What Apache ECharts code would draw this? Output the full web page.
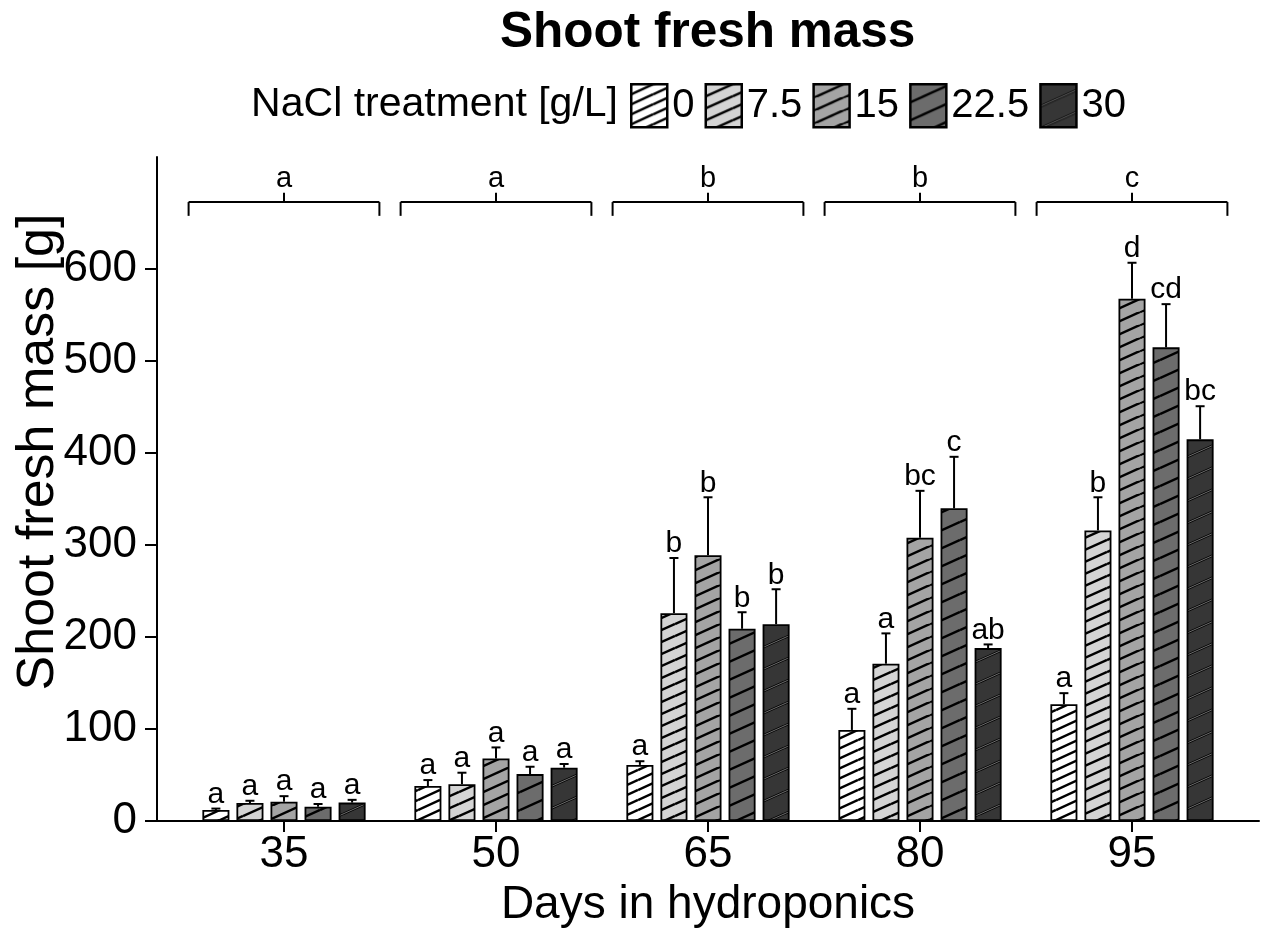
<!DOCTYPE html>
<html>
<head>
<meta charset="utf-8">
<script src="https://cdn.jsdelivr.net/npm/echarts@6/dist/echarts.min.js"></script>
<style>
	html, body { margin: 0; padding: 0; background: #fff; }
	#cn { width: 1272px; height: 944px; }
</style>
</head>
<body>
<div id="cn"></div>
<script>
'use strict';

const DAYS = ['35', '50', '65', '80', '95'];
const NACL = ['0', '7.5', '15', '22.5', '30'];

// mean shoot fresh mass [g]
const MEAN_0 = [12, 38, 61, 99, 127];
const MEAN_7_5 = [19.5, 40, 226, 171, 316];
const MEAN_15 = [21, 68, 289, 308, 568];
const MEAN_22_5 = [15.5, 51, 209, 340, 515];
const MEAN_30 = [20, 58, 214, 188, 415];

// upper error (sd)
const SD_0 = [1.5, 6.5, 4, 23, 12];
const SD_7_5 = [2.5, 12.5, 60, 33, 36];
const SD_15 = [6, 12, 63, 51, 39];
const SD_22_5 = [3, 8, 18, 56, 47];
const SD_30 = [3, 4, 38, 4, 36];

// significance letters
const LETTERS_0 = ['a', 'a', 'a', 'a', 'a'];
const LETTERS_7_5 = ['a', 'a', 'b', 'a', 'b'];
const LETTERS_15 = ['a', 'a', 'b', 'bc', 'd'];
const LETTERS_22_5 = ['a', 'a', 'b', 'c', 'cd'];
const LETTERS_30 = ['a', 'a', 'b', 'ab', 'bc'];
const GROUP_LETTERS = ['a', 'a', 'b', 'b', 'c'];

const Y_TICKS = [0, 100, 200, 300, 400, 500, 600];

const MEANS = [MEAN_0, MEAN_7_5, MEAN_15, MEAN_22_5, MEAN_30];
const SDS = [SD_0, SD_7_5, SD_15, SD_22_5, SD_30];
const LETTERS = [LETTERS_0, LETTERS_7_5, LETTERS_15, LETTERS_22_5, LETTERS_30];

const FONT = "'Liberation Sans', Arial, sans-serif";
const CAT_GAP = 0.23;
const BAR_GAP = 0.26;
const SLOPE = 0.45;

// diagonal hatch tile
const hatch = (bg, spacing, lineW, stroke, inner) => {
	const h = spacing;
	const w = Math.round(spacing / SLOPE);
	const c = document.createElement('canvas');
	c.width = w;
	c.height = h;
	const ctx = c.getContext('2d');
	ctx.fillStyle = bg;
	ctx.fillRect(0, 0, w, h);
	const draw = (col, lw) => {
		ctx.strokeStyle = col;
		ctx.lineWidth = lw;
		for (let k = -1; k <= 1; k++) {
			ctx.beginPath();
			ctx.moveTo(0, h + k * h);
			ctx.lineTo(w, k * h);
			ctx.stroke();
		}
	};
	draw(stroke, lineW);
	inner && draw(inner, 0.8);
	return { image: c, repeat: 'repeat' };
};

const PATTERNS = [
	hatch('#ffffff', 10, 2.5, '#000'),
	hatch('#d4d4d4', 12, 2.5, '#000'),
	hatch('#a4a4a4', 13.5, 2.5, '#000'),
	hatch('#6c6c6c', 18, 2.5, '#000'),
	hatch('#363636', 22, 2.5, '#000', '#8a8a8a')
];

const barSeries = NACL.map((name, t) => ({
	name: name,
	type: 'bar',
	xAxisIndex: 0,
	yAxisIndex: 0,
	data: MEANS[t],
	barCategoryGap: (CAT_GAP * 100) + '%',
	barGap: (BAR_GAP * 100) + '%',
	itemStyle: {
		color: PATTERNS[t],
		borderColor: '#000',
		borderWidth: 1.8
	},
	emphasis: { disabled: true }
}));

// error bars + letters
const errData = [];
const errLetters = [];
NACL.forEach((name, t) => {
	DAYS.forEach((d, c) => {
		errData.push([c, t, MEANS[t][c], SDS[t][c]]);
		errLetters.push(LETTERS[t][c]);
	});
});

const lineEl = (x1, y1, x2, y2) => ({
	type: 'line',
	shape: { x1, y1, x2, y2 },
	style: { stroke: '#000', lineWidth: 2 }
});

const textEl = (txt, x, y, size) => ({
	type: 'text',
	x: x,
	y: y,
	style: {
		text: txt,
		fill: '#000',
		fontSize: size,
		fontFamily: FONT,
		align: 'center',
		verticalAlign: 'bottom'
	}
});

const errSeries = {
	type: 'custom',
	xAxisIndex: 0,
	yAxisIndex: 0,
	z: 5,
	silent: true,
	data: errData,
	encode: { x: 0, y: 2 },
	renderItem: (params, api) => {
		const c = api.value(0), t = api.value(1), v = api.value(2), e = api.value(3);
		const base = api.coord([c, v]);
		const top = api.coord([c, v + e]);
		const band = api.size([1, 0])[0];
		const bw = band * (1 - CAT_GAP) / (5 + 4 * BAR_GAP);
		const x = base[0] + (t - 2) * bw * (1 + BAR_GAP);
		return {
			type: 'group',
			children: [
				lineEl(x, base[1], x, top[1]),
				lineEl(x - 4.5, top[1], x + 4.5, top[1]),
				textEl(errLetters[params.dataIndex], x, top[1] + 1, 30)
			]
		};
	}
};

// group brackets
const bracketSeries = {
	type: 'custom',
	xAxisIndex: 0,
	yAxisIndex: 0,
	z: 5,
	silent: true,
	data: DAYS.map((d, c) => [c]),
	encode: { x: 0 },
	renderItem: (params, api) => {
		const c = api.value(0);
		const mid = api.coord([c, 673]);
		const end = api.coord([c, 658]);
		const tip = api.coord([c, 683]);
		const half = api.size([1, 0])[0] * 0.45;
		return {
			type: 'group',
			children: [
				lineEl(mid[0] - half, mid[1], mid[0] + half, mid[1]),
				lineEl(mid[0] - half, mid[1], mid[0] - half, end[1]),
				lineEl(mid[0] + half, mid[1], mid[0] + half, end[1]),
				lineEl(mid[0], mid[1], mid[0], tip[1]),
				textEl(GROUP_LETTERS[c], mid[0], tip[1] + 1, 29)
			]
		};
	}
};

const chart = echarts.init(document.getElementById('cn'), null, { renderer: 'canvas' });

const option = {
	animation: false,
	backgroundColor: '#fff',
	textStyle: { fontFamily: FONT, color: '#000' },
	title: [{
		text: 'Shoot fresh mass',
		left: 500,
		top: 8,
		padding: 0,
		textStyle: { fontSize: 49.5, fontWeight: 'bold', color: '#000', fontFamily: FONT }
	}, {
		text: 'NaCl treatment [g/L]',
		right: 654,
		top: 84,
		padding: 0,
		textStyle: { fontSize: 41, fontWeight: 'normal', color: '#000', fontFamily: FONT }
	}],
	legend: {
		data: NACL,
		left: 630,
		top: 83,
		padding: 0,
		itemWidth: 36,
		itemHeight: 43,
		itemGap: 10,
		icon: 'rect',
		selectedMode: false,
		itemStyle: { borderColor: '#000', borderWidth: 2.5 },
		textStyle: { fontSize: 40, color: '#000', fontFamily: FONT }
	},
	grid: [{
		left: 178,
		right: 34,
		top: 157,
		bottom: 123,
		outerBoundsMode: 'none'
	}, {
		left: 157,
		right: 13,
		top: 157,
		bottom: 123,
		outerBoundsMode: 'none'
	}],
	xAxis: [{
		type: 'category',
		gridIndex: 0,
		data: DAYS,
		name: 'Days in hydroponics',
		nameLocation: 'middle',
		nameGap: 60,
		nameTextStyle: { fontSize: 46, color: '#000', fontFamily: FONT },
		axisLine: { show: false },
		axisTick: {
			show: true,
			alignWithLabel: true,
			length: 11,
			lineStyle: { color: '#000', width: 2 }
		},
		axisLabel: { fontSize: 44, color: '#000', margin: 12, fontFamily: FONT },
		splitLine: { show: false }
	}, {
		type: 'value',
		gridIndex: 1,
		min: 0,
		max: 1,
		axisLine: { show: true, lineStyle: { color: '#000', width: 2 } },
		axisTick: { show: false },
		axisLabel: { show: false },
		splitLine: { show: false }
	}],
	yAxis: [{
		type: 'value',
		gridIndex: 0,
		min: 0,
		max: 722,
		offset: 21,
		name: 'Shoot fresh mass [g]',
		nameLocation: 'middle',
		nameGap: 92,
		nameMoveOverlap: false,
		nameTextStyle: { fontSize: 52, color: '#000', fontFamily: FONT, padding: [0, 0, 0, 74] },
		axisLine: { show: true, lineStyle: { color: '#000', width: 2 } },
		axisTick: {
			show: true,
			length: 12,
			customValues: Y_TICKS,
			lineStyle: { color: '#000', width: 2 }
		},
		axisLabel: {
			fontSize: 44,
			color: '#000',
			margin: 20,
			fontFamily: FONT,
			customValues: Y_TICKS
		},
		splitLine: { show: false }
	}, {
		type: 'value',
		gridIndex: 1,
		show: false,
		min: 0,
		max: 1
	}],
	series: [...barSeries, errSeries, bracketSeries]
};

chart.setOption(option);
</script>
</body>
</html>
